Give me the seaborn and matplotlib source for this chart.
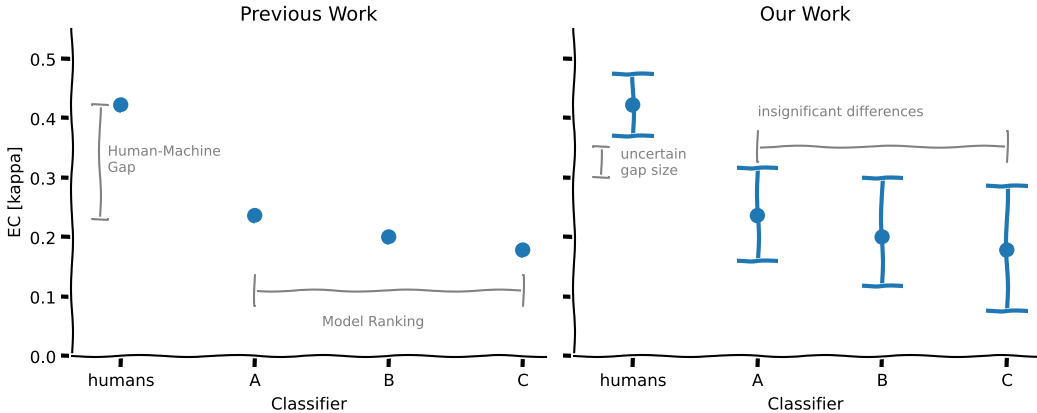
import matplotlib
matplotlib.use("Agg")
import matplotlib.pyplot as plt
import seaborn as sns
import pandas as pd
import numpy as np

# ---- data ----
categories = ["humans", "A", "B", "C"]
ec_kappa = [0.422, 0.236, 0.200, 0.178]
ci_low = [0.370, 0.160, 0.118, 0.076]
ci_high = [0.474, 0.316, 0.300, 0.286]
yticks = [0.0, 0.1, 0.2, 0.3, 0.4, 0.5]

titles = ["Previous Work", "Our Work"]
ylabel = "EC [kappa]"
xlabel = "Classifier"

# annotation texts
gap_text = "Human-Machine\nGap"
rank_text = "Model Ranking"
uncertain_text = "uncertain\ngap size"
insig_text = "insignificant differences"

sns.set_style("ticks")
plt.xkcd()
plt.rcParams["font.family"] = ["DejaVu Sans"]
plt.rcParams.update({
    "text.color": "black",
    "axes.labelcolor": "black",
    "xtick.color": "black",
    "ytick.color": "black",
    "axes.edgecolor": "black",
})

df = pd.DataFrame({"Classifier": categories, "EC": ec_kappa})

fig = plt.figure(figsize=(10.37, 4.14), dpi=100)
ax1 = fig.add_axes([0.0694, 0.1377, 0.457, 0.790])
ax2 = fig.add_axes([0.5535, 0.1377, 0.4465, 0.790])

blue = "#1f77b4"
grey = "grey"

# Left panel
sns.scatterplot(data=df, x="Classifier", y="EC", ax=ax1, s=100,
                color=blue, edgecolor="none", zorder=3)
ax1.set_xlim(-0.366, 3.171)

# Right panel
means = np.array(ec_kappa)
yerr = [means - np.array(ci_low), np.array(ci_high) - means]
sns.scatterplot(data=df, x="Classifier", y="EC", ax=ax2, s=100,
                color=blue, edgecolor="none", zorder=2)
ax2.errorbar(np.arange(len(categories)), means, yerr=yerr, fmt="none",
             ecolor=blue, elinewidth=3, capsize=15, capthick=3, zorder=3)
ax2.set_xlim(-0.473, 3.24)

for ax, t in zip([ax1, ax2], titles):
    ax.set_ylim(0, 0.55)
    ax.set_yticks(yticks)
    ax.set_xticks(range(len(categories)))
    ax.set_xticklabels(categories)
    ax.set_title(t, fontsize=14, color="black")
    ax.set_xlabel(xlabel, fontsize=12, color="black")
    ax.tick_params(labelsize=12, colors="black")
    ax.spines["top"].set_visible(False)
    ax.spines["right"].set_visible(False)

ax1.set_ylabel(ylabel, fontsize=12, color="black")
ax1.set_yticklabels([f"{v:.1f}" for v in yticks])
ax2.set_ylabel("")
ax2.set_yticklabels([])

# Annotations: left
ax1.annotate("", xy=(-0.157, 0.422), xytext=(-0.157, 0.230),
             arrowprops=dict(arrowstyle="|-|,widthA=0.4,widthB=0.4",
                             color=grey, lw=1.5, shrinkA=0, shrinkB=0))
ax1.text(-0.10, 0.33, gap_text, color=grey, fontsize=10, va="center", ha="left")
ax1.annotate("", xy=(1.0, 0.110), xytext=(3.0, 0.110),
             arrowprops=dict(arrowstyle="|-|,widthA=0.8,widthB=0.8",
                             color=grey, lw=1.5, shrinkA=0, shrinkB=0))
ax1.text(1.5, 0.057, rank_text, color=grey, fontsize=10, va="center", ha="left")

# Annotations: right
ax2.annotate("", xy=(-0.257, 0.352), xytext=(-0.257, 0.301),
             arrowprops=dict(arrowstyle="|-|,widthA=0.4,widthB=0.4",
                             color=grey, lw=1.5, shrinkA=0, shrinkB=0))
ax2.text(-0.10, 0.325, uncertain_text, color=grey, fontsize=10, va="center", ha="left")
ax2.annotate("", xy=(1.0, 0.352), xytext=(3.0, 0.352),
             arrowprops=dict(arrowstyle="|-|,widthA=0.8,widthB=0.8",
                             color=grey, lw=1.5, shrinkA=0, shrinkB=0))
ax2.text(1.0, 0.41, insig_text, color=grey, fontsize=10, va="center", ha="left")

fig.savefig("out.png", dpi=100)
